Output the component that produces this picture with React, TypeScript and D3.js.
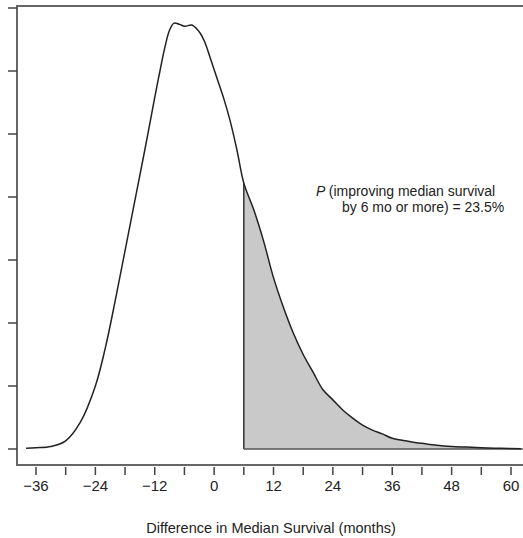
import React, { useEffect, useRef } from 'react';
import * as d3 from 'd3';

// posterior density of the difference in median survival (months)
const months = [-38, -36, -33, -30, -27, -24, -22, -20, -18, -16, -14, -12, -11, -10, -9, -8.1, -7, -5.9, -4.5, -2.8, -1.8, -0.8, 0.6, 2, 3.2, 4.6, 6, 8, 10, 12, 14, 16, 18, 20, 22, 24, 26, 28, 30, 32, 34, 36, 38, 40, 42, 45, 48, 51, 54, 58, 62];
const density = [0.01, 0.02, 0.04, 0.13, 0.43, 1.0, 1.6, 2.35, 3.15, 3.95, 4.75, 5.58, 5.98, 6.36, 6.65, 6.76, 6.74, 6.71, 6.73, 6.6, 6.44, 6.21, 5.88, 5.55, 5.22, 4.75, 4.22, 3.8, 3.3, 2.72, 2.25, 1.84, 1.5, 1.22, 0.94, 0.78, 0.62, 0.49, 0.38, 0.3, 0.24, 0.17, 0.14, 0.11, 0.09, 0.06, 0.04, 0.03, 0.02, 0.01, 0.005];
const xTicks = [-36, -30, -24, -18, -12, -6, 0, 6, 12, 18, 24, 30, 36, 42, 48, 54, 60];
const xTickLabels = [-36, -24, -12, 0, 12, 24, 36, 48, 60];
const yTicks = [0, 1, 2, 3, 4, 5, 6, 7];
const cutoff = 6;
const annotation = ['(improving median survival', 'by 6 mo or more) = 23.5%'];

const App = () => {
  const svgRef = useRef<SVGSVGElement>(null);

  useEffect(() => {
    const width = 523;
    const height = 538;
    const box = { left: 17, top: 6, right: 530, bottom: 465 };
    const font = 'Liberation Sans, Arial, sans-serif';

    const svg = d3.select(svgRef.current);
    svg.selectAll('*').remove();
    svg.attr('width', width).attr('height', height);

    const x = d3.scaleLinear().domain([-36, 60]).range([36, 511]);
    const y = d3.scaleLinear().domain([0, 7]).range([449, 8]);

    const data = months.map((m, i) => ({ m, d: density[i] }));
    const curve = d3.curveCatmullRom.alpha(0.5);

    // shaded tail beyond the cutoff
    const tail = data.filter(p => p.m >= cutoff);
    const area = d3.area<{ m: number; d: number }>()
      .x(p => x(p.m))
      .y0(y(0))
      .y1(p => y(p.d))
      .curve(curve);
    svg.append('path')
      .datum(tail)
      .attr('d', area)
      .attr('fill', '#c9c9c9')
      .attr('stroke', 'none');

    // vertical line and baseline of the shaded region
    svg.append('line')
      .attr('x1', x(cutoff)).attr('x2', x(cutoff))
      .attr('y1', y(0)).attr('y2', y(density[months.indexOf(cutoff)]))
      .attr('stroke', '#333').attr('stroke-width', 1.5);
    svg.append('line')
      .attr('x1', x(cutoff)).attr('x2', box.right)
      .attr('y1', y(0)).attr('y2', y(0))
      .attr('stroke', '#555').attr('stroke-width', 1.5);

    // density curve
    const line = d3.line<{ m: number; d: number }>()
      .x(p => x(p.m))
      .y(p => y(p.d))
      .curve(curve);
    svg.append('path')
      .datum(data)
      .attr('d', line)
      .attr('fill', 'none')
      .attr('stroke', '#222')
      .attr('stroke-width', 1.5);

    // plot box
    svg.append('rect')
      .attr('x', box.left).attr('y', box.top)
      .attr('width', box.right - box.left).attr('height', box.bottom - box.top)
      .attr('fill', 'none')
      .attr('stroke', '#666')
      .attr('stroke-width', 2);

    // x ticks
    svg.append('g')
      .selectAll('line')
      .data(xTicks)
      .enter()
      .append('line')
      .attr('x1', d => x(d)).attr('x2', d => x(d))
      .attr('y1', 467).attr('y2', 475)
      .attr('stroke', '#444').attr('stroke-width', 1.5);

    svg.append('g')
      .selectAll('text')
      .data(xTickLabels)
      .enter()
      .append('text')
      .attr('x', d => x(d))
      .attr('y', 491)
      .attr('text-anchor', 'middle')
      .style('font-family', font)
      .style('font-size', '15px')
      .style('fill', '#222')
      .text(d => (d < 0 ? '\u2212' + Math.abs(d) : String(d)));

    // y ticks (labels cropped in the original)
    svg.append('g')
      .selectAll('line')
      .data(yTicks)
      .enter()
      .append('line')
      .attr('x1', 8).attr('x2', box.left)
      .attr('y1', d => y(d)).attr('y2', d => y(d))
      .attr('stroke', '#444').attr('stroke-width', 1.5);

    // axis title
    svg.append('text')
      .attr('x', 271)
      .attr('y', 533)
      .attr('text-anchor', 'middle')
      .style('font-family', font)
      .style('font-size', '14.5px')
      .style('fill', '#222')
      .text('Difference in Median Survival (months)');

    // annotation
    const t1 = svg.append('text')
      .attr('x', 316)
      .attr('y', 196)
      .style('font-family', font)
      .style('font-size', '14px')
      .style('fill', '#222');
    t1.append('tspan').style('font-style', 'italic').text('P ');
    t1.append('tspan').text(annotation[0]);

    svg.append('text')
      .attr('x', 342)
      .attr('y', 212)
      .style('font-family', font)
      .style('font-size', '14px')
      .style('fill', '#222')
      .text(annotation[1]);
  }, []);

  return (
    <div style={{ position: 'absolute', left: 0, top: 0 }}>
      <svg ref={svgRef} style={{ display: 'block' }}></svg>
    </div>
  );
};

export default App;
